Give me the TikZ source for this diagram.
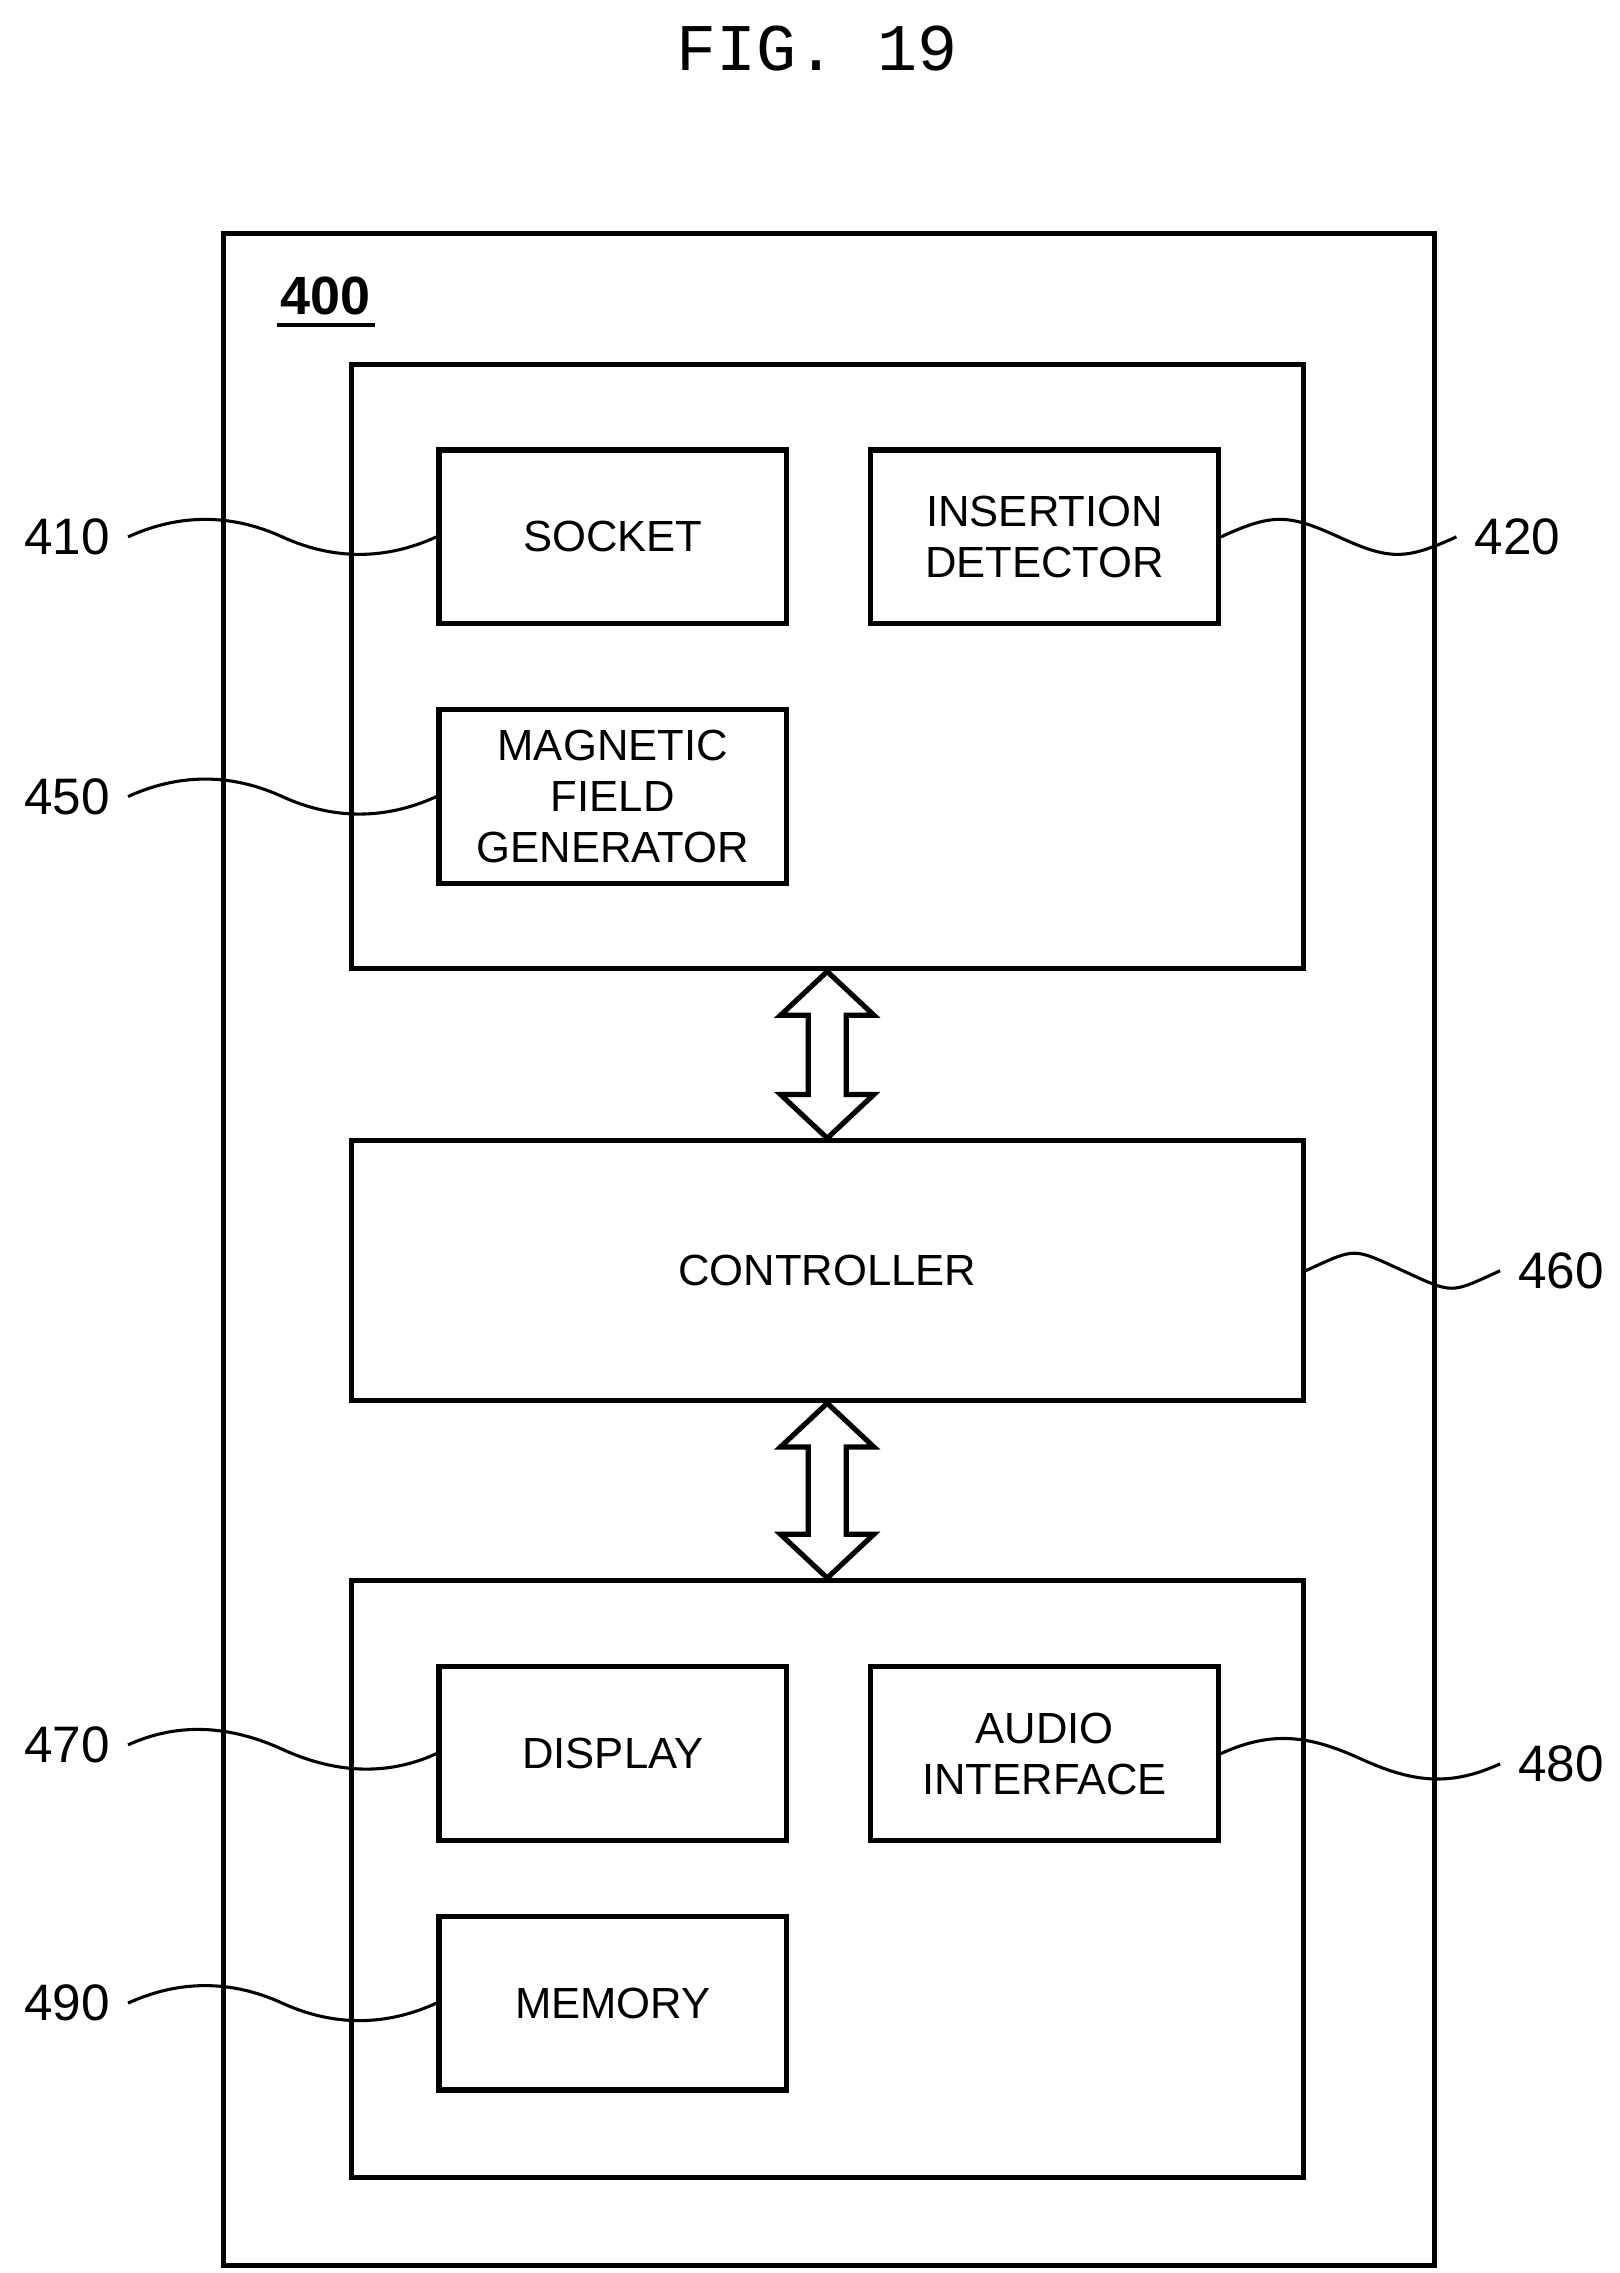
\documentclass[tikz,border=0pt]{standalone}
\usepackage{fontspec}
\setmainfont{Liberation Sans}
\newfontfamily\figfont{Liberation Mono}
\usetikzlibrary{positioning,calc}
\begin{document}
\begin{tikzpicture}[x = 0.01cm, y = -0.01cm,
	blk/.style = {draw, line width = 1pt, minimum width = 2.38cm, minimum height = 1.19cm, align = center, font = \fontsize{8.5}{10}\selectfont, inner sep = 0pt},
	grp/.style = {draw, line width = 1pt, minimum width = 6.52cm},
	ref/.style = {font = \fontsize{10}{12}\selectfont},
	wave/.style = {line width = 0.6pt}]
	\useasboundingbox (0,0) rectangle (1110,1558);
	\newcommand{\wavy}[2]{%
		\draw[wave] (#1) .. controls ($(#1)+(35,-16)$) and ($($(#1)!0.5!(#2)$)+(-35,-16)$) .. ($(#1)!0.5!(#2)$)
			.. controls ($($(#1)!0.5!(#2)$)+(35,16)$) and ($(#2)+(-35,16)$) .. (#2);}
	
	\node[font = \figfont\fontsize{13}{15}\selectfont] (fig) at (560,33) {FIG. 19};
	
	% frame
	\draw[line width = 1pt] (153,160) rectangle (983,1553);
	\node[font = \bfseries\fontsize{10.5}{12}\selectfont, inner sep = 1pt] (num) at (223,203) {400};
	\draw[line width = 0.8pt] (190,223) -- (257,223);
	
	% groups
	\node[grp, minimum height = 4.14cm] (top) at (567,457) {};
	\node[grp, minimum height = 1.78cm, font = \fontsize{8.5}{10}\selectfont] (ctrl) at (567,871) {CONTROLLER};
	\node[grp, minimum height = 4.09cm] (bot) at (567,1288) {};
	
	% blocks
	\node[blk] (sock) at (420,368) {SOCKET};
	\node[blk] (ins) at (716,368) {INSERTION\\DETECTOR};
	\node[blk] (mag) at (420,546) {MAGNETIC\\FIELD\\GENERATOR};
	\node[blk] (disp) at (420,1202) {DISPLAY};
	\node[blk] (aud) at (716,1202) {AUDIO\\INTERFACE};
	\node[blk] (mem) at (420,1373) {MEMORY};
	
	% double arrows
	\foreach \a/\b in {top/ctrl, ctrl/bot} {
		\draw[line width = 1pt] (\a.south) -- ++(32,30) -- ++(-19,0) -- ($(\b.north)+(13,-30)$) -- ++(19,0) -- (\b.north)
			-- ++(-32,-30) -- ++(19,0) -- ($(\a.south)+(-13,30)$) -- ++(-19,0) -- cycle;
	}
	
	% reference numerals
	\node[ref] (r410) at (46,368) {410};
	\node[ref] (r420) at (1040,368) {420};
	\node[ref] (r450) at (46,546) {450};
	\node[ref] (r460) at (1070,871) {460};
	\node[ref] (r470) at (46,1196) {470};
	\node[ref] (r480) at (1070,1209) {480};
	\node[ref] (r490) at (46,1373) {490};
	
	\wavy{r410.east}{sock.west}
	\wavy{r450.east}{mag.west}
	\wavy{r470.east}{disp.west}
	\wavy{r490.east}{mem.west}
	\wavy{ins.east}{r420.west}
	\wavy{ctrl.east}{r460.west}
	\wavy{aud.east}{r480.west}
\end{tikzpicture}
\end{document}
